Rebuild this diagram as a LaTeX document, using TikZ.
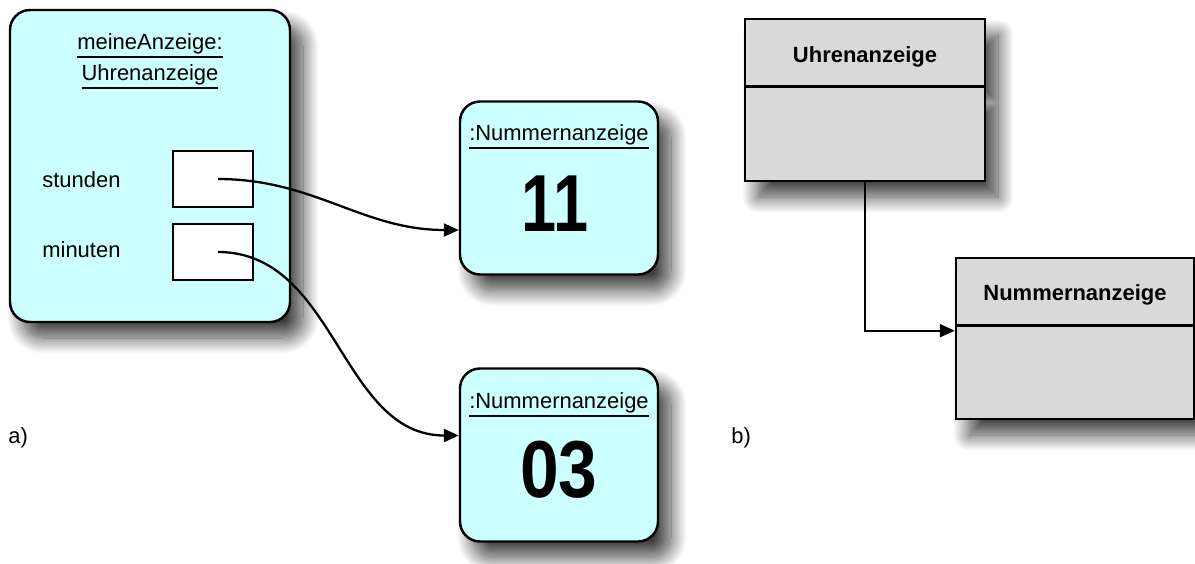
\documentclass[tikz,border=0pt]{standalone}
\usepackage{fontspec}
\setmainfont{Liberation Sans}
\usetikzlibrary{arrows.meta,shapes.multipart,shadows.blur}

\definecolor{objcyan}{RGB}{204,255,255}
\definecolor{classgray}{RGB}{217,217,217}

% underlined object name
\newcommand{\objname}[1]{\vtop{\hbox{#1}\kern1.4pt\hrule height 1.2pt}}

\begin{document}
\begin{tikzpicture}[x=0.2mm,y=-0.2mm]

%
% Styles
%
\tikzstyle{drop}     = [blur shadow={shadow xshift=2.6mm,shadow yshift=-3.2mm,shadow blur radius=3.2mm,
                                     shadow blur steps=20,shadow opacity=75}]
\tikzstyle{txt}      = [font=\fontsize{12.5}{15}\selectfont,inner sep=0pt]
\tikzstyle{objbox}   = [draw,line width=1.4pt,fill=objcyan,rounded corners=4mm,drop]
\tikzstyle{numbox}   = [objbox,minimum width=39.6mm,minimum height=34.6mm]
\tikzstyle{slotbox}  = [draw,line width=1.4pt,fill=white,minimum width=16mm,minimum height=11.2mm]
\tikzstyle{value}    = [font=\fontsize{46}{46}\selectfont\bfseries,inner sep=0pt]
\tikzstyle{classbox} = [draw,line width=1.4pt,fill=classgray,rectangle split,rectangle split parts=2,
                        inner ysep=0pt,font=\fontsize{12.5}{15}\selectfont\bfseries,drop]
\tikzstyle{link}     = [-{Triangle[length=3mm,width=2.6mm]},line width=1.3pt]

\useasboundingbox (0,0) rectangle (1195,563);

% a) object diagram
\node[objbox,minimum width=56mm,minimum height=62.4mm] (uhr) at (150,166) {};
\node[txt,anchor=base] (ttl1) at (150,49) {\objname{meineAnzeige:}};
\node[txt,anchor=base] (ttl2) at (150,80) {\objname{Uhrenanzeige}};

\node[txt,anchor=base west] (lstd) at (42,187) {stunden};
\node[txt,anchor=base west] (lmin) at (42,257) {minuten};
\node[slotbox] (hrs) at (213,179) {};
\node[slotbox] (mins) at (213,252) {};

\node[numbox] (n11) at (559,188) {};
\node[txt,anchor=base] (h11) at (559,140) {\objname{:Nummernanzeige}};
\node[value] (v11) at (555,204) {\scalebox{0.78}[1]{11}};

\node[numbox] (n03) at (559,455) {};
\node[txt,anchor=base] (h03) at (559,408) {\objname{:Nummernanzeige}};
\node[value] (v03) at (559,470) {\scalebox{0.86}[1]{03}};

\draw[link] ([xshift=1mm]hrs.center) to[out=0,in=180] ([yshift=-8.4mm]n11.west);
\draw[link] ([xshift=1mm]mins.center) to[out=0,in=180] ([yshift=3.9mm]n03.west);

\node[txt,anchor=base west] (la) at (8,443) {a)};

% b) class diagram
\node[classbox,minimum width=48mm,anchor=north] (cuhr) at (865,18)
  {\rule[-4.6mm]{0pt}{13mm}Uhrenanzeige\nodepart{two}\rule{0pt}{18.4mm}};
\node[classbox,minimum width=47.6mm,anchor=north] (cnum) at (1075,257)
  {\rule[-4.8mm]{0pt}{13mm}Nummernanzeige\nodepart{two}\rule{0pt}{18.2mm}};

\draw[link] (cuhr.south) |- ([yshift=-1mm]cnum.text split west);

\node[txt,anchor=base west] (lb) at (731,443) {b)};

\end{tikzpicture}
\end{document}
